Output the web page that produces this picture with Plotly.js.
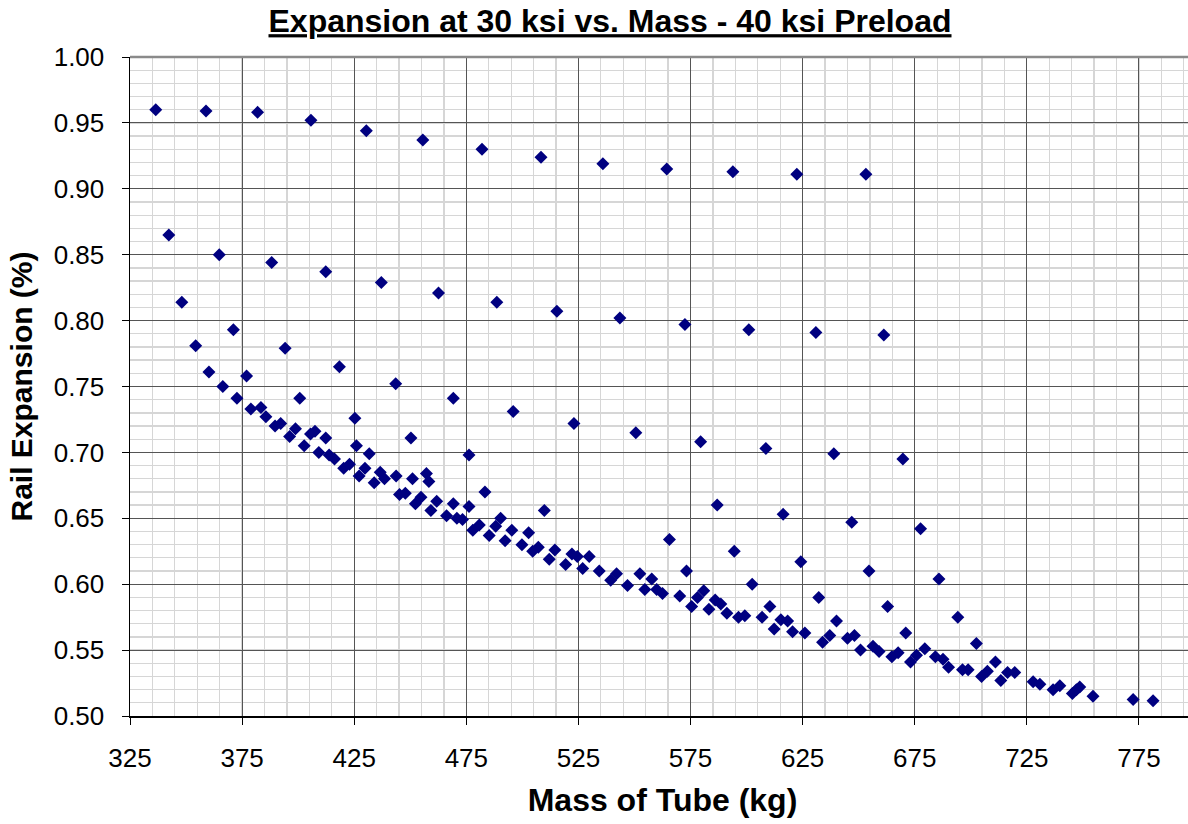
<!DOCTYPE html>
<html>
<head>
<meta charset="utf-8">
<script src="https://cdn.plot.ly/plotly-3.0.1.min.js"></script>
<style>
html, body { margin: 0; padding: 0; overflow: hidden; background: #fff; width: 1188px; height: 824px; }
#chart { width: 1200px; height: 824px; }
</style>
</head>
<body>
<div id="chart"></div>
<script>
// Mass of tube (kg) and rail expansion (%)
const massRow1 = [336.5, 358.9, 381.9, 405.7, 430.4, 455.6, 482.0, 508.3, 535.9, 564.4, 593.9, 622.4, 653.2];
const expRow1  = [0.960, 0.959, 0.958, 0.952, 0.944, 0.937, 0.930, 0.924, 0.919, 0.915, 0.913, 0.911, 0.911];

const massRow2 = [342.3, 364.8, 388.2, 412.3, 437.1, 462.6, 488.6, 515.4, 543.5, 572.5, 601.0, 630.9, 661.2];
const expRow2  = [0.865, 0.850, 0.844, 0.837, 0.829, 0.821, 0.814, 0.807, 0.802, 0.797, 0.793, 0.791, 0.789];

const massRow3 = [348.1, 371.1, 394.2, 418.4, 443.5, 469.2, 495.9, 523.0, 550.6, 579.5, 608.6, 638.9, 669.7];
const expRow3  = [0.814, 0.793, 0.779, 0.765, 0.752, 0.741, 0.731, 0.722, 0.715, 0.708, 0.703, 0.699, 0.695];

const massRow4 = [354.3, 377.0, 400.7, 425.3, 450.3, 476.2];
const expRow4  = [0.781, 0.758, 0.741, 0.726, 0.711, 0.698];

const massUpper = [483.3, 509.8, 586.9, 616.3, 646.9, 677.6, 565.6, 594.5, 624.2, 654.6, 685.8,
                   573.2, 602.5, 632.2, 662.9, 694.2, 610.4, 640.1, 671.0, 702.5, 648.1, 711.0];
const expUpper  = [0.670, 0.656, 0.660, 0.653, 0.647, 0.642, 0.634, 0.625, 0.617, 0.610, 0.604,
                   0.610, 0.600, 0.590, 0.583, 0.575, 0.583, 0.572, 0.563, 0.555, 0.561, 0.541];

const massBand = [360.2, 366.4, 372.7, 378.9, 383.4, 385.6, 389.7, 392.2, 398.8, 396.2,
                  405.5, 407.5, 412.3, 402.7, 426.0, 409.2, 431.7, 413.8, 416.2, 420.3,
                  422.9, 429.8, 427.2, 436.6, 438.5, 433.9, 443.7, 451.0, 445.2, 447.8,
                  452.3, 454.8, 457.2, 458.3, 461.8, 459.2, 469.2, 476.2, 466.2, 470.8,
                  473.3, 477.9, 480.8, 490.3, 488.1, 485.2, 495.3, 492.3, 502.8, 499.8,
                  507.1, 504.6, 514.5, 512.0, 522.1, 524.5, 529.8, 519.3, 526.9, 534.3,
                  542.0, 539.4, 546.9, 552.4, 554.6, 557.7, 559.9, 562.5, 570.2, 575.5,
                  578.1, 580.9, 583.2, 586.0, 588.5, 591.2, 596.4, 599.2, 606.9, 612.3,
                  615.3, 618.3, 620.5, 626.0, 633.9, 637.1, 645.0, 650.8, 656.4, 659.1,
                  664.8, 667.6, 673.1, 675.8, 679.5, 684.2, 687.6, 690.1, 696.3, 698.8,
                  704.8, 707.4, 713.4, 716.4, 719.6, 727.8, 730.8, 736.7, 739.7, 745.3,
                  747.1, 748.6, 754.5, 772.4, 781.3];
const expBand  = [0.761, 0.750, 0.741, 0.733, 0.734, 0.727, 0.720, 0.722, 0.718, 0.712,
                  0.714, 0.716, 0.711, 0.705, 0.705, 0.700, 0.699, 0.698, 0.695, 0.688,
                  0.691, 0.688, 0.682, 0.685, 0.680, 0.677, 0.682, 0.680, 0.668, 0.669,
                  0.661, 0.666, 0.684, 0.678, 0.663, 0.656, 0.661, 0.659, 0.652, 0.650,
                  0.649, 0.641, 0.645, 0.650, 0.644, 0.637, 0.641, 0.633, 0.639, 0.630,
                  0.628, 0.625, 0.626, 0.619, 0.623, 0.621, 0.621, 0.615, 0.612, 0.610,
                  0.608, 0.603, 0.599, 0.608, 0.596, 0.604, 0.596, 0.593, 0.591, 0.583,
                  0.590, 0.595, 0.581, 0.588, 0.585, 0.578, 0.575, 0.576, 0.575, 0.566,
                  0.573, 0.572, 0.564, 0.563, 0.556, 0.561, 0.559, 0.550, 0.553, 0.549,
                  0.545, 0.548, 0.541, 0.546, 0.551, 0.545, 0.543, 0.537, 0.535, 0.535,
                  0.530, 0.534, 0.527, 0.533, 0.533, 0.526, 0.524, 0.520, 0.523, 0.517,
                  0.520, 0.522, 0.515, 0.5125, 0.5115];

const xTicks = [325, 375, 425, 475, 525, 575, 625, 675, 725, 775];
const yTicks = [0.50, 0.55, 0.60, 0.65, 0.70, 0.75, 0.80, 0.85, 0.90, 0.95, 1.00];

const xs = [].concat(massRow1, massRow2, massRow3, massRow4, massUpper, massBand);
const ys = [].concat(expRow1, expRow2, expRow3, expRow4, expUpper, expBand);

const FONT = 'Arial, "Liberation Sans", Helvetica, sans-serif';

const trace = {
  type: 'scatter',
  mode: 'markers',
  x: xs,
  y: ys,
  marker: { symbol: 'diamond', size: 10, color: '#000080', line: { width: 0 } },
  hoverinfo: 'x+y'
};

const layout = {
  width: 1200,
  height: 824,
  margin: { l: 130, r: 5, t: 57, b: 108, pad: 0 },
  paper_bgcolor: '#ffffff',
  plot_bgcolor: '#ffffff',
  showlegend: false,
  font: { family: FONT, color: '#000' },
  title: {
    text: '<b><u>Expansion at 30 ksi vs. Mass - 40 ksi Preload</u></b>',
    font: { family: FONT, size: 32, color: '#000' },
    x: 610 / 1200, xref: 'container', xanchor: 'center',
    y: 1 - 21 / 824, yref: 'container', yanchor: 'middle'
  },
  xaxis: {
    range: [325, 800],
    tickmode: 'array',
    tickvals: xTicks,
    ticktext: xTicks.map(String),
    ticks: 'outside', ticklen: 7, tickwidth: 1, tickcolor: '#000',
    tickfont: { family: FONT, size: 26, color: '#000' },
    ticklabelstandoff: 11,
    showline: true, linecolor: '#000', linewidth: 2,
    showgrid: true, gridcolor: '#555555', gridwidth: 1,
    minor: { dtick: 10, tick0: 325, showgrid: true, gridcolor: '#d6d6d6', gridwidth: 1.3, ticks: '' },
    zeroline: false,
    title: { text: '<b>Mass of Tube (kg)</b>', font: { family: FONT, size: 32, color: '#000' }, standoff: 16 },
    automargin: false,
    fixedrange: true
  },
  yaxis: {
    range: [0.5, 1.0],
    tickmode: 'array',
    tickvals: yTicks,
    ticktext: yTicks.map(v => v.toFixed(2)),
    ticks: 'outside', ticklen: 7, tickwidth: 1, tickcolor: '#000',
    tickfont: { family: FONT, size: 26, color: '#000' },
    ticklabelstandoff: 12,
    showline: true, linecolor: '#000', linewidth: 1.5,
    showgrid: true, gridcolor: '#555555', gridwidth: 1,
    minor: { dtick: 0.01, tick0: 0.5, showgrid: true, gridcolor: '#d6d6d6', gridwidth: 1.3, ticks: '' },
    zeroline: false,
    title: { text: '<b>Rail Expansion (%)</b>', font: { family: FONT, size: 30, color: '#000' }, standoff: 12 },
    automargin: false,
    fixedrange: true
  },
  shapes: [
    { type: 'line', xref: 'paper', yref: 'paper', x0: 0, x1: 1, y0: 1, y1: 1,
      line: { color: '#8a8a8a', width: 2.5 }, layer: 'above' }
  ]
};

Plotly.newPlot('chart', [trace], layout, { displayModeBar: false, staticPlot: true });
</script>
</body>
</html>
